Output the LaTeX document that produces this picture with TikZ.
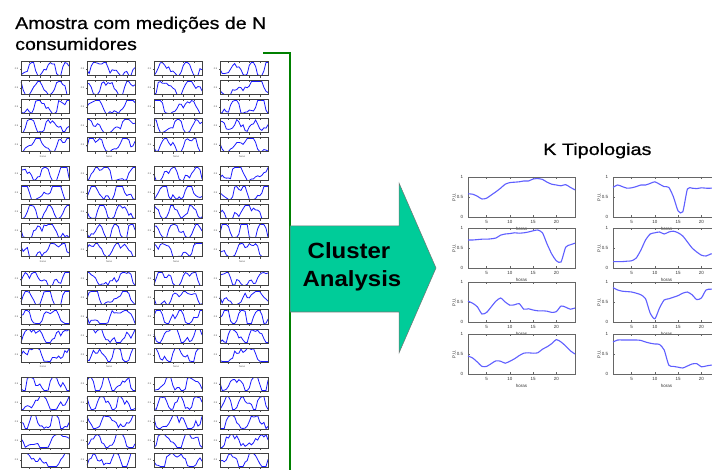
\documentclass[tikz,border=0pt]{standalone}
\usepackage{fontspec}
\setmainfont{Liberation Sans}
\newfontfamily\headfont[FakeBold=0.7]{Liberation Sans}
\usetikzlibrary{calc}
\definecolor{arrowfill}{RGB}{0,204,153}
\definecolor{bracegreen}{RGB}{0,128,0}
\definecolor{miniblue}{RGB}{25,25,255}
\definecolor{typblue}{RGB}{95,95,255}
\tikzset{
	minibox/.style={line width=1pt, color=black!75},
	minicurve/.style={line width=0.8pt, color=miniblue},
	minitick/.style={line width=0.4pt, color=black!70},
	minilabel/.style={inner sep=0pt, font=\fontsize{2.4}{3}\selectfont, color=black!70},
	bigbox/.style={line width=0.6pt, color=black!60},
	bigcurve/.style={line width=1.1pt, color=typblue},
	biglabel/.style={inner sep=0pt, font=\fontsize{4.5}{5}\selectfont, color=black!80},
	headline/.style={anchor=base west, inner sep=0pt, font=\headfont\fontsize{17}{20}\selectfont, xscale=1.15},
	arrowword/.style={anchor=base, inner sep=0pt, font=\bfseries\fontsize{22}{26}\selectfont, xscale=1.09}
}
% one small load curve, random shape, box at (x,y) of its top left corner
\def\miniplot(#1,#2){%
	\begin{scope}[shift={(#1,#2+14)}, x=2.087pt, y=14pt]
		\pgfmathsetmacro\fa{14+rnd*30}
		\pgfmathsetmacro\pa{rnd*360}
		\pgfmathsetmacro\fb{35+rnd*40}
		\pgfmathsetmacro\pb{rnd*360}
		\pgfmathsetmacro\fc{80+rnd*50}
		\pgfmathsetmacro\pc{rnd*360}
		\draw[minicurve] plot[domain=1:24, samples=24] (\x, {max(0.04,min(0.96,0.5+0.55*sin(\fa*\x+\pa)+0.28*sin(\fb*\x+\pb)+0.12*sin(\fc*\x+\pc)+0.12*rand))});
		\draw[minibox] (1,0) rectangle (24,1);
		\foreach \t in {5,10,15,20} {
			\draw[minitick] (\t,0) -- (\t,-0.12);
			\draw[minitick] (\t,1) -- (\t,0.9);
		}
		\draw[minitick] (1,0.5) -- (0.4,0.5);
		\node[minilabel, anchor=east] at (-0.3,0.5) {0.5};
	\end{scope}}
% one typical curve (typology), box at (x,y) of its top left corner
\def\bigplot(#1,#2)#3{%
	\begin{scope}[shift={(#1-4.652,#2+40)}, x=4.652pt, y=40pt]
		\draw[bigbox] (1,0) rectangle (24,1);
		\foreach \t in {5,10,15,20} {
			\draw[bigbox] (\t,0) -- (\t,0.06);
			\draw[bigbox] (\t,1) -- (\t,0.94);
			\node[biglabel, anchor=north] at (\t,-0.08) {\t};
		}
		\foreach \v/\s in {0/0,0.5/0.5,1/1} {
			\draw[bigbox] (1,\v) -- (1.5,\v);
			\node[biglabel, anchor=east] at (0.0,\v) {\s};
		}
		\node[biglabel, rotate=90] at (-2.0,0.5) {P.U.};
		\node[biglabel] at (12.5,-0.3) {horas};
		\draw[bigcurve] plot[smooth, tension=0.4] coordinates {#3};
	\end{scope}}

\begin{document}
\begin{tikzpicture}[x=1pt, y=-1pt]
		%%%%% START %%%%%
		\clip (0,0) rectangle (712,470);
		\fill[white] (0,0) rectangle (712,470);
		\pgfmathsetseed{4217}
		
		\node[headline] (sampletitle) at (15,29) {Amostra com medições de N};
		\node[headline] (sampletitletwo) at (15,50) {consumidores};
		
		% N consumers, four blocks of five rows
		\foreach \gx in {19,85,152,218}
			\foreach \gy in {62,167,272,377}
				\foreach \r in {0,...,4}
					\miniplot(\gx,\gy+19*\r);
		\foreach \gx in {19,85,152,218}
			\foreach \gy in {62,167,272}
				\node[minilabel] at (\gx+24,\gy+95) {horas};
		
		% green bracket behind the arrow
		\draw[line width=2.6pt, color=bracegreen] (263,53) -- (290,53) -- (290,472);
		
		\draw[line width=0.5pt, color=black!55, fill=arrowfill] (290,226) -- (399,226) -- (399,183) -- (436,268) -- (399,353) -- (399,312) -- (290,312) -- cycle;
		\node[arrowword] (clusterword) at (349,259) {Cluster};
		\node[arrowword] (analysisword) at (352,287) {Analysis};
		
		\node[headline, font=\headfont\fontsize{16.5}{20}\selectfont, xscale=1.2/1.15] (typtitle) at (543,155) {K Tipologias};
		
		% K typologies
		\bigplot(468,177){(1,0.58) (2,0.57) (3,0.52) (4,0.45) (5,0.47) (6,0.55) (7,0.63) (8,0.72) (9,0.82) (10,0.86) (11,0.87) (12,0.88) (13,0.90) (14,0.90) (15,0.95) (16,0.96) (17,0.94) (18,0.87) (19,0.82) (20,0.80) (21,0.78) (22,0.81) (23,0.74) (24,0.68)}
		\bigplot(613,177){(1,0.74) (2,0.80) (3,0.76) (4,0.72) (5,0.73) (6,0.76) (7,0.80) (8,0.80) (9,0.84) (10,0.88) (11,0.82) (12,0.76) (13,0.74) (14,0.50) (15,0.15) (16,0.13) (17,0.70) (18,0.72) (19,0.71) (20,0.73) (21,0.72) (22,0.72) (23,0.72) (24,0.72)}
		\bigplot(468,228){(1,0.70) (2,0.70) (3,0.71) (4,0.72) (5,0.72) (6,0.73) (7,0.75) (8,0.82) (9,0.85) (10,0.86) (11,0.88) (12,0.87) (13,0.88) (14,0.90) (15,0.93) (16,0.95) (17,0.88) (18,0.60) (19,0.35) (20,0.18) (21,0.15) (22,0.52) (23,0.58) (24,0.62)}
		\bigplot(613,228){(1,0.16) (2,0.16) (3,0.16) (4,0.17) (5,0.18) (6,0.25) (7,0.45) (8,0.70) (9,0.85) (10,0.88) (11,0.90) (12,0.85) (13,0.90) (14,0.92) (15,0.88) (16,0.80) (17,0.65) (18,0.50) (19,0.40) (20,0.32) (21,0.30) (22,0.35) (23,0.36) (24,0.36)}
		\bigplot(468,282){(1,0.52) (2,0.47) (3,0.38) (4,0.20) (5,0.24) (6,0.38) (7,0.52) (8,0.60) (9,0.50) (10,0.42) (11,0.43) (12,0.46) (13,0.32) (14,0.33) (15,0.30) (16,0.28) (17,0.28) (18,0.27) (19,0.24) (20,0.26) (21,0.40) (22,0.37) (23,0.32) (24,0.35)}
		\bigplot(613,282){(1,0.86) (2,0.80) (3,0.77) (4,0.76) (5,0.75) (6,0.72) (7,0.68) (8,0.58) (9,0.22) (10,0.08) (11,0.35) (12,0.55) (13,0.58) (14,0.62) (15,0.66) (16,0.72) (17,0.75) (18,0.68) (19,0.56) (20,0.60) (21,0.80) (22,0.82) (23,0.82) (24,0.82)}
		\bigplot(468,334){(1,0.45) (2,0.40) (3,0.30) (4,0.19) (5,0.19) (6,0.26) (7,0.33) (8,0.32) (9,0.27) (10,0.32) (11,0.38) (12,0.46) (13,0.52) (14,0.53) (15,0.52) (16,0.53) (17,0.62) (18,0.68) (19,0.76) (20,0.86) (21,0.80) (22,0.70) (23,0.58) (24,0.50)}
		\bigplot(613,334){(1,0.80) (2,0.85) (3,0.85) (4,0.85) (5,0.85) (6,0.85) (7,0.84) (8,0.80) (9,0.77) (10,0.75) (11,0.74) (12,0.60) (13,0.22) (14,0.19) (15,0.17) (16,0.15) (17,0.20) (18,0.25) (19,0.26) (20,0.18) (21,0.20) (22,0.22) (23,0.22) (24,0.22)}
		
		%%%%% END %%%%%
\end{tikzpicture}
\end{document}
